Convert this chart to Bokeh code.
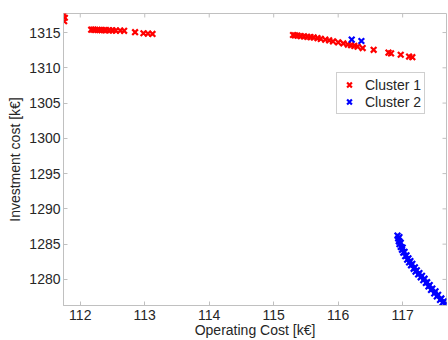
from bokeh.plotting import figure
from bokeh.models import Range1d, Legend, LegendItem, FixedTicker
from bokeh.embed import file_html
from bokeh.resources import INLINE

# Cluster 1 (red)
c1_x = [111.75, 111.76, 111.75,
        112.17, 112.20, 112.23, 112.27, 112.30, 112.33, 112.37, 112.40, 112.45, 112.50, 112.55, 112.62, 112.68,
        112.85, 112.98, 113.05, 113.12,
        115.30, 115.33, 115.37, 115.42, 115.47, 115.52, 115.57, 115.62, 115.68, 115.73, 115.80, 115.86,
        115.92, 116.00, 116.08, 116.15, 116.20, 116.25, 116.30, 116.38, 116.55, 116.78, 116.82, 116.97,
        117.10, 117.15]
c1_y = [1317.6, 1317.1, 1316.6,
        1315.40, 1315.40, 1315.38, 1315.38, 1315.36, 1315.35, 1315.35, 1315.33, 1315.32, 1315.30, 1315.28, 1315.27, 1315.25,
        1315.05, 1314.90, 1314.85, 1314.80,
        1314.65, 1314.60, 1314.55, 1314.50, 1314.45, 1314.40, 1314.35, 1314.30, 1314.20, 1314.10, 1314.00, 1313.90,
        1313.75, 1313.60, 1313.45, 1313.30, 1313.20, 1313.10, 1313.00, 1312.80, 1312.55, 1312.15, 1312.05, 1311.85,
        1311.60, 1311.50]

# Cluster 2 (blue)
c2_x = [116.21, 116.36,
        116.92, 116.93, 116.94, 116.95, 116.97, 116.99, 117.01, 117.04, 117.07, 117.10, 117.13, 117.17,
        117.20, 117.24, 117.28, 117.32, 117.36, 117.40, 117.44, 117.49, 117.53, 117.58, 117.62, 117.66,
        116.95, 116.97, 117.00, 117.03, 117.06, 117.09, 117.12, 117.15, 117.19, 117.22,
        117.26, 117.30, 117.34, 117.38, 117.42, 117.46, 117.51, 117.55, 117.60, 117.64]
c2_y = [1314.0, 1313.8,
        1286.2, 1285.8, 1285.4, 1285.0, 1284.6, 1284.2, 1283.8, 1283.3, 1282.8, 1282.4, 1282.0, 1281.5,
        1281.1, 1280.7, 1280.3, 1279.9, 1279.5, 1279.0, 1278.5, 1278.0, 1277.6, 1277.1, 1276.7, 1276.4,
        1286.0, 1285.2, 1284.5, 1283.9, 1283.4, 1283.0, 1282.6, 1282.2, 1281.7, 1281.3,
        1280.9, 1280.5, 1280.1, 1279.6, 1279.2, 1278.7, 1278.3, 1277.8, 1277.3, 1276.9]

x_ticks = [112, 113, 114, 115, 116, 117]
y_ticks = [1280, 1285, 1290, 1295, 1300, 1305, 1310, 1315]

FONT = "Liberation Sans"
AXIS_GRAY = "#c0c0c0"
TEXT = "#262626"

X0, X1 = 111.74, 117.68
Y0, Y1 = 1276.3, 1317.7

p = figure(width=448, height=340, output_backend="svg", toolbar_location=None,
           x_range=Range1d(X0, X1), y_range=Range1d(Y0, Y1),
           min_border_left=63, min_border_top=13, min_border_bottom=34, min_border_right=2)
p.xgrid.visible = False
p.ygrid.visible = False
p.outline_line_color = AXIS_GRAY
p.background_fill_color = "white"
p.border_fill_color = "white"

bottom = p.below[0]
left = p.left[0]
for ax, ticks in ((bottom, x_ticks), (left, y_ticks)):
    ax.ticker = FixedTicker(ticks=ticks)
    ax.axis_line_color = AXIS_GRAY
    ax.major_tick_line_color = AXIS_GRAY
    ax.major_tick_in = 4
    ax.major_tick_out = 0
    ax.minor_tick_line_color = None
    ax.major_label_text_font = FONT
    ax.major_label_text_font_size = "14px"
    ax.major_label_text_color = TEXT
    ax.axis_label_text_font = FONT
    ax.axis_label_text_font_size = "14px"
    ax.axis_label_text_font_style = "normal"
    ax.axis_label_text_color = TEXT

bottom.major_label_standoff = 4
left.major_label_standoff = 3
bottom.axis_label = "Operating Cost [k€]"
left.axis_label = "Investment cost [k€]"
bottom.axis_label_standoff = -1
left.axis_label_standoff = 3

# box ticks on top and right edges (MATLAB-style), 4px long
tx = (X1 - X0) / 383.0 * 4
ty = (Y1 - Y0) / 293.0 * 4
p.segment(x0=x_ticks, y0=[Y1] * len(x_ticks), x1=x_ticks, y1=[Y1 - ty] * len(x_ticks),
          line_color=AXIS_GRAY, line_width=1)
p.segment(x0=[X1] * len(y_ticks), y0=y_ticks, x1=[X1 - tx] * len(y_ticks), y1=y_ticks,
          line_color=AXIS_GRAY, line_width=1)

r1 = p.scatter(c1_x, c1_y, marker="x", size=8, line_width=2.2, color="#ff0000")
r2 = p.scatter(c2_x, c2_y, marker="x", size=8, line_width=2.2, color="#0000ff")

legend = Legend(items=[LegendItem(label="Cluster 1", renderers=[r1]),
                       LegendItem(label="Cluster 2", renderers=[r2])],
                location=(273, 191), label_text_font=FONT, label_text_font_size="14px",
                label_text_color=TEXT, border_line_color="#a0a0a0", padding=3, spacing=0,
                glyph_width=18, label_standoff=7, margin=0, label_height=17, glyph_height=17)
p.add_layout(legend, "center")

open("out.html", "w").write(file_html(p, INLINE))
